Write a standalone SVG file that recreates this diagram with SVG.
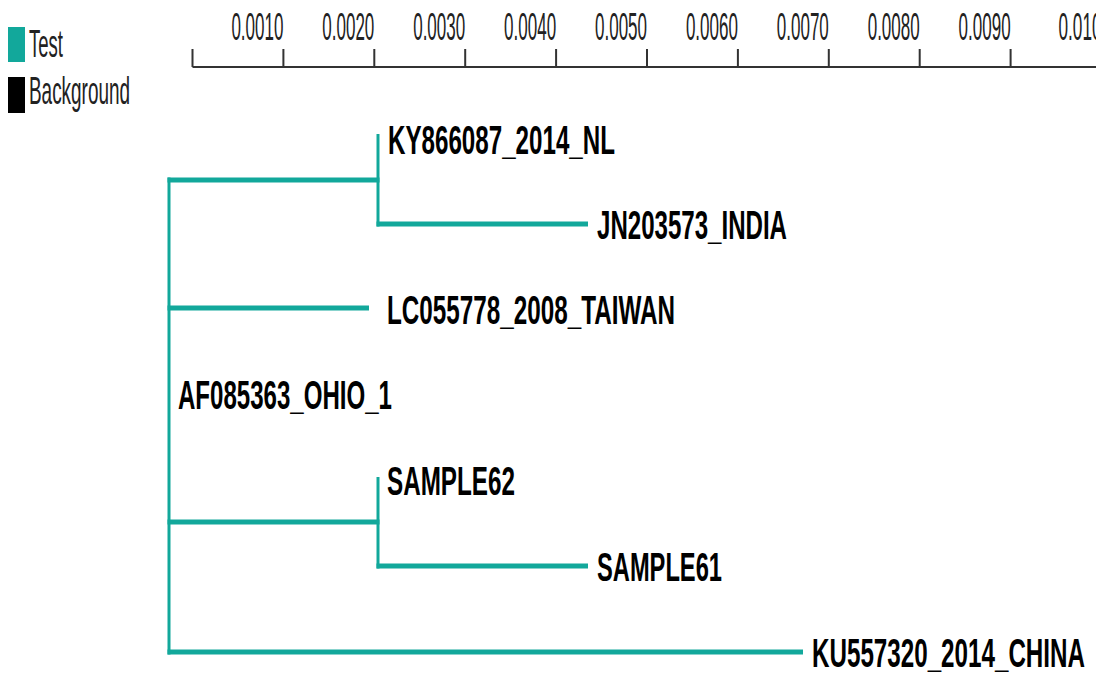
<svg xmlns="http://www.w3.org/2000/svg" width="1104" height="679" viewBox="0 0 1104 679">
<defs>
<style>
.lab{font-family:"Liberation Sans",Arial,sans-serif;font-size:40px;font-weight:bold;fill:#000}
.leg{font-family:"Liberation Sans",Arial,sans-serif;font-size:39px;fill:#222}
.ax{font-family:"Liberation Sans",Arial,sans-serif;font-size:38px;fill:#222}
.h{stroke:#12a89b;stroke-width:5;fill:none}
.v{stroke:#12a89b;stroke-width:3;fill:none}
.axl{stroke:#333;stroke-width:2;fill:none}
</style>
<clipPath id="clip"><rect x="0" y="0" width="1096" height="679"/></clipPath>
</defs>
<rect width="1104" height="679" fill="#fff"/>
<g id="legend">
<rect x="8" y="27" width="17" height="35" fill="#12a89b"/>
<rect x="8" y="77" width="17" height="36" fill="#000"/>
<g transform="scale(0.46,1)">
<text class="leg" x="63.04" y="57" textLength="73.91" lengthAdjust="spacingAndGlyphs">Test</text>
<text class="leg" x="63.04" y="104" textLength="219.57" lengthAdjust="spacingAndGlyphs">Background</text>
</g>
</g>
<g id="scale" clip-path="url(#clip)">
<path class="axl" d="M192.5,67H1100M192.5,49V67M283.4,49V67M374.3,49V67M465.2,49V67M556.1,49V67M647,49V67M737.9,49V67M828.8,49V67M919.7,49V67M1010.6,49V67"/>
<g text-anchor="end" transform="scale(0.45,1)">
<text class="ax" x="629.78" y="40" textLength="115.56" lengthAdjust="spacingAndGlyphs">0.0010</text>
<text class="ax" x="831.78" y="40" textLength="115.56" lengthAdjust="spacingAndGlyphs">0.0020</text>
<text class="ax" x="1033.78" y="40" textLength="115.56" lengthAdjust="spacingAndGlyphs">0.0030</text>
<text class="ax" x="1235.78" y="40" textLength="115.56" lengthAdjust="spacingAndGlyphs">0.0040</text>
<text class="ax" x="1437.78" y="40" textLength="115.56" lengthAdjust="spacingAndGlyphs">0.0050</text>
<text class="ax" x="1639.78" y="40" textLength="115.56" lengthAdjust="spacingAndGlyphs">0.0060</text>
<text class="ax" x="1841.78" y="40" textLength="115.56" lengthAdjust="spacingAndGlyphs">0.0070</text>
<text class="ax" x="2043.78" y="40" textLength="115.56" lengthAdjust="spacingAndGlyphs">0.0080</text>
<text class="ax" x="2245.78" y="40" textLength="115.56" lengthAdjust="spacingAndGlyphs">0.0090</text>
<text class="ax" x="2447.78" y="40" textLength="95.56" lengthAdjust="spacingAndGlyphs">0.010</text>
</g>
</g>
<g id="connectors">
<path class="v" d="M169,177.5V654.5"/>
<path class="h" d="M167.5,180H379.5"/>
<path class="v" d="M378,134V226.5"/>
<path class="h" d="M376.5,224H588"/>
<path class="h" d="M167.5,308H369"/>
<path class="h" d="M167.5,522H379.5"/>
<path class="v" d="M378,477V568.5"/>
<path class="h" d="M376.5,566H588"/>
<path class="h" d="M167.5,652H803"/>
</g>
<g id="KY866087_2014_NL" transform="scale(0.6,1)"><text class="lab" x="646.67" y="154" textLength="378.33" lengthAdjust="spacingAndGlyphs">KY866087_2014_NL</text></g>
<g id="JN203573_INDIA" transform="scale(0.6,1)"><text class="lab" x="995" y="239" textLength="316.67" lengthAdjust="spacingAndGlyphs">JN203573_INDIA</text></g>
<g id="LC055778_2008_TAIWAN" transform="scale(0.6,1)"><text class="lab" x="645" y="324" textLength="480" lengthAdjust="spacingAndGlyphs">LC055778_2008_TAIWAN</text></g>
<g id="AF085363_OHIO_1" transform="scale(0.6,1)"><text class="lab" x="296.67" y="409" textLength="356.67" lengthAdjust="spacingAndGlyphs">AF085363_OHIO_1</text></g>
<g id="SAMPLE62" transform="scale(0.6,1)"><text class="lab" x="645" y="495" textLength="213.33" lengthAdjust="spacingAndGlyphs">SAMPLE62</text></g>
<g id="SAMPLE61" transform="scale(0.6,1)"><text class="lab" x="995" y="581" textLength="208.33" lengthAdjust="spacingAndGlyphs">SAMPLE61</text></g>
<g id="KU557320_2014_CHINA" transform="scale(0.6,1)"><text class="lab" x="1353.33" y="667" textLength="455" lengthAdjust="spacingAndGlyphs">KU557320_2014_CHINA</text></g>
</svg>
